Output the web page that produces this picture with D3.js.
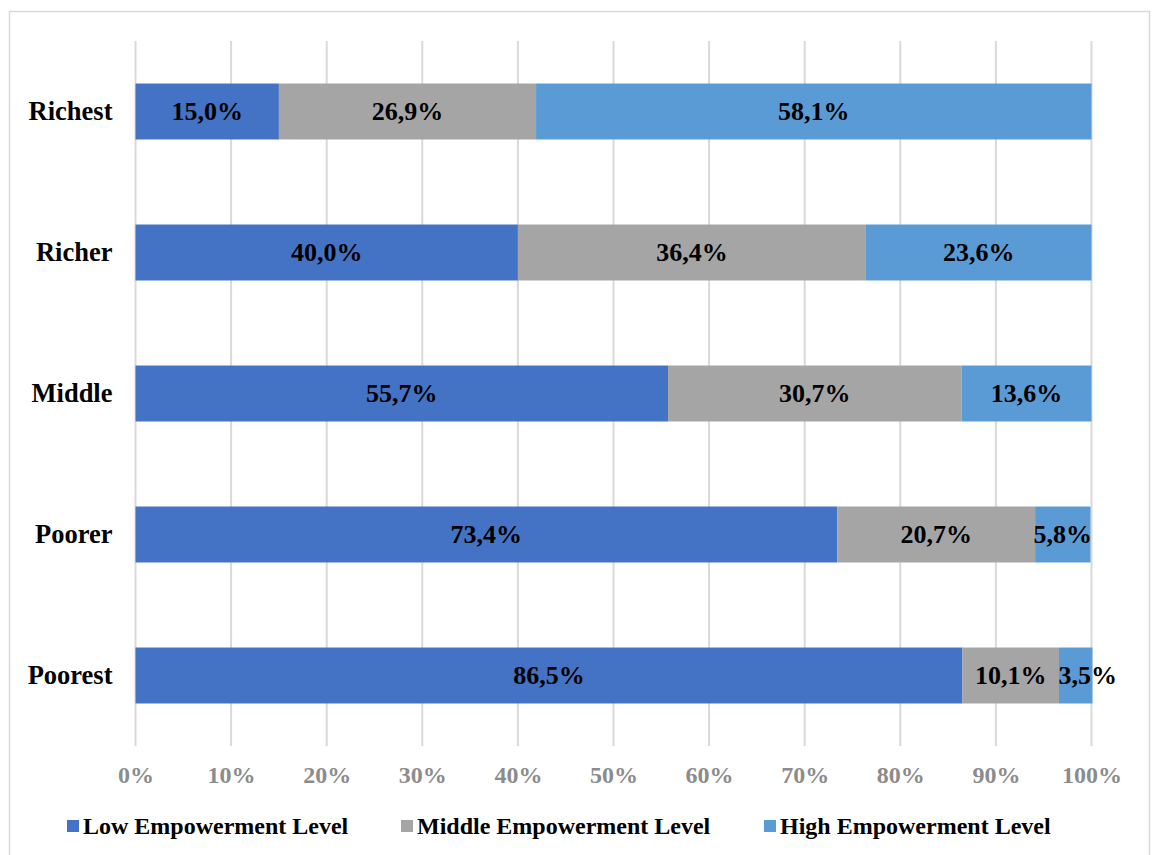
<!DOCTYPE html>
<html>
<head>
<meta charset="utf-8">
<script src="https://cdn.jsdelivr.net/npm/d3@7"></script>
<style>
  html, body { margin: 0; padding: 0; background: #fff; }
  svg { display: block; }
  text { font-family: "Liberation Serif", "Times New Roman", serif; font-weight: bold; }
</style>
</head>
<body>
<svg id="chart" width="1152" height="855"></svg>
<script>
// Wealth quintiles, top to bottom
const categories = ["Richest", "Richer", "Middle", "Poorer", "Poorest"];
// Share of women at each empowerment level (%)
const lowLevel    = [15.0, 40.0, 55.7, 73.4, 86.5];
const middleLevel = [26.9, 36.4, 30.7, 20.7, 10.1];
const highLevel   = [58.1, 23.6, 13.6, 5.8, 3.5];
const seriesNames = ["Low Empowerment Level", "Middle Empowerment Level", "High Empowerment Level"];
const seriesColors = ["#4472C4", "#A5A5A5", "#5B9BD5"];
const tickValues = [0, 10, 20, 30, 40, 50, 60, 70, 80, 90, 100];

const FONT = "'Liberation Serif', 'Times New Roman', serif";
const svg = d3.select("#chart");

// outer frame
svg.append("rect")
  .attr("x", 9.5).attr("y", 11.5)
  .attr("width", 1140).attr("height", 850)
  .attr("fill", "none").attr("stroke", "#d9d9d9").attr("stroke-width", 1.5);

const plot = { left: 135.5, right: 1091.5, top: 41, bottom: 746 };

const x = d3.scaleLinear().domain([0, 100]).range([plot.left, plot.right]);
const y = d3.scaleBand().domain(categories).range([plot.top, plot.bottom]).paddingInner(0.603).paddingOuter(0.3015);

// gridlines
svg.append("g").selectAll("line").data(tickValues).join("line")
  .attr("x1", d => x(d)).attr("x2", d => x(d))
  .attr("y1", plot.top).attr("y2", plot.bottom)
  .attr("stroke", "#d9d9d9").attr("stroke-width", 2);

// x tick labels
const xAxis = d3.axisBottom(x).tickValues(tickValues).tickFormat(d => d + "%").tickSize(0).tickPadding(0);
const xg = svg.append("g").attr("transform", `translate(0, ${plot.bottom + 20})`).call(xAxis);
xg.select(".domain").remove();
xg.selectAll("text")
  .attr("fill", "#8c8c8c")
  .style("font-size", "24px")
  .style("font-family", FONT)
  .style("font-weight", "bold");

// category labels
const yAxis = d3.axisLeft(y).tickSize(0).tickPadding(23);
const yg = svg.append("g").attr("transform", `translate(${plot.left}, 0)`).call(yAxis);
yg.select(".domain").remove();
yg.selectAll("text")
  .attr("fill", "#000")
  .attr("dy", "0.33em")
  .style("font-size", "26.5px")
  .style("font-family", FONT)
  .style("font-weight", "bold");

// stacked data
const rows = categories.map((c, i) => ({ cat: c, s0: lowLevel[i], s1: middleLevel[i], s2: highLevel[i] }));
const stack = d3.stack().keys(["s0", "s1", "s2"]);
const layers = stack(rows);

const layerG = svg.append("g").selectAll("g").data(layers).join("g")
  .attr("fill", (d, i) => seriesColors[i]);

layerG.selectAll("rect").data(d => d).join("rect")
  .attr("x", d => x(d[0]))
  .attr("width", d => x(d[1]) - x(d[0]))
  .attr("y", d => y(d.data.cat))
  .attr("height", y.bandwidth());

// value labels, centred in each segment; a label that would collide
// with its left neighbour is nudged right
const labelG = svg.append("g");
const prevEnd = {};
layers.forEach(layer => {
  layer.forEach(d => {
    const t = labelG.append("text")
      .attr("y", y(d.data.cat) + y.bandwidth() / 2)
      .attr("dy", "0.33em")
      .attr("fill", "#000")
      .style("font-size", "26px")
      .style("font-family", FONT)
      .style("font-weight", "bold")
      .text(d3.format(".1f")(d[1] - d[0]).replace(".", ",") + "%");
    const w = t.node().getComputedTextLength();
    let left = (x(d[0]) + x(d[1])) / 2 - w / 2;
    const key = d.data.cat;
    if (prevEnd[key] !== undefined && left < prevEnd[key] + 12) left = prevEnd[key] + 12;
    t.attr("x", left);
    prevEnd[key] = left + w;
  });
});

// legend
const legendX = [67, 401, 764];
const legend = svg.append("g").selectAll("g").data(seriesNames).join("g")
  .attr("transform", (d, i) => `translate(${legendX[i]}, 826)`);
legend.append("rect")
  .attr("x", 0).attr("y", -6).attr("width", 12).attr("height", 12)
  .attr("fill", (d, i) => seriesColors[i]);
legend.append("text")
  .attr("x", 16).attr("dy", "0.33em")
  .attr("fill", "#000")
  .style("font-size", "24px")
  .style("font-family", FONT)
  .text(d => d);
</script>
</body>
</html>
